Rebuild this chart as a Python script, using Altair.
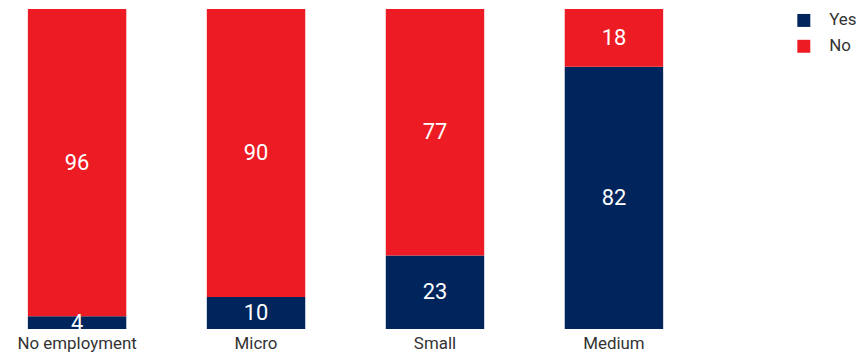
import altair as alt
import pandas as pd

categories = ["No employment", "Micro", "Small", "Medium"]
yes_values = [4, 10, 23, 82]
no_values = [96, 90, 77, 18]
series = ["Yes", "No"]
colors = ["#00245C", "#ED1C24"]

rows = []
for c, y, n in zip(categories, yes_values, no_values):
    rows.append({"cat": c, "series": "Yes", "value": y, "ord": 0})
    rows.append({"cat": c, "series": "No", "value": n, "ord": 1})
df = pd.DataFrame(rows)

FONT = "Roboto, sans-serif"

base = alt.Chart(df).transform_stack(
    stack="value", groupby=["cat"], as_=["v0", "v1"], sort=[alt.SortField("ord", order="ascending")]
).transform_calculate(mid="(datum.v0 + datum.v1) / 2")

xenc = alt.X(
    "cat:N",
    sort=categories,
    title=None,
    scale=alt.Scale(paddingInner=0.45, paddingOuter=0.111),
    axis=alt.Axis(labelAngle=0, domain=False, ticks=False, labelFontSize=17,
                  labelColor="#333333", labelFont=FONT, labelPadding=6),
)

bars = base.mark_bar().encode(
    x=xenc,
    y=alt.Y("v0:Q", scale=alt.Scale(domain=[0, 100], nice=False), axis=None),
    y2="v1:Q",
    color=alt.Color(
        "series:N",
        scale=alt.Scale(domain=series, range=colors),
        legend=alt.Legend(
            title=None, orient="none", legendX=792, legendY=3,
            symbolType="square", symbolSize=170, symbolStrokeWidth=0,
            labelFontSize=17, labelFont=FONT, labelColor="#333333",
            rowPadding=8, labelOffset=17,
        ),
    ),
)

text = base.mark_text(color="white", fontSize=22, font=FONT).encode(
    x=alt.X("cat:N", sort=categories),
    y=alt.Y("mid:Q"),
    text="value:Q",
)

chart = (bars + text).properties(width=679, height=322, padding=0).configure_view(stroke=None)

chart.save("out.html", embed_options={"renderer": "svg", "actions": False})
